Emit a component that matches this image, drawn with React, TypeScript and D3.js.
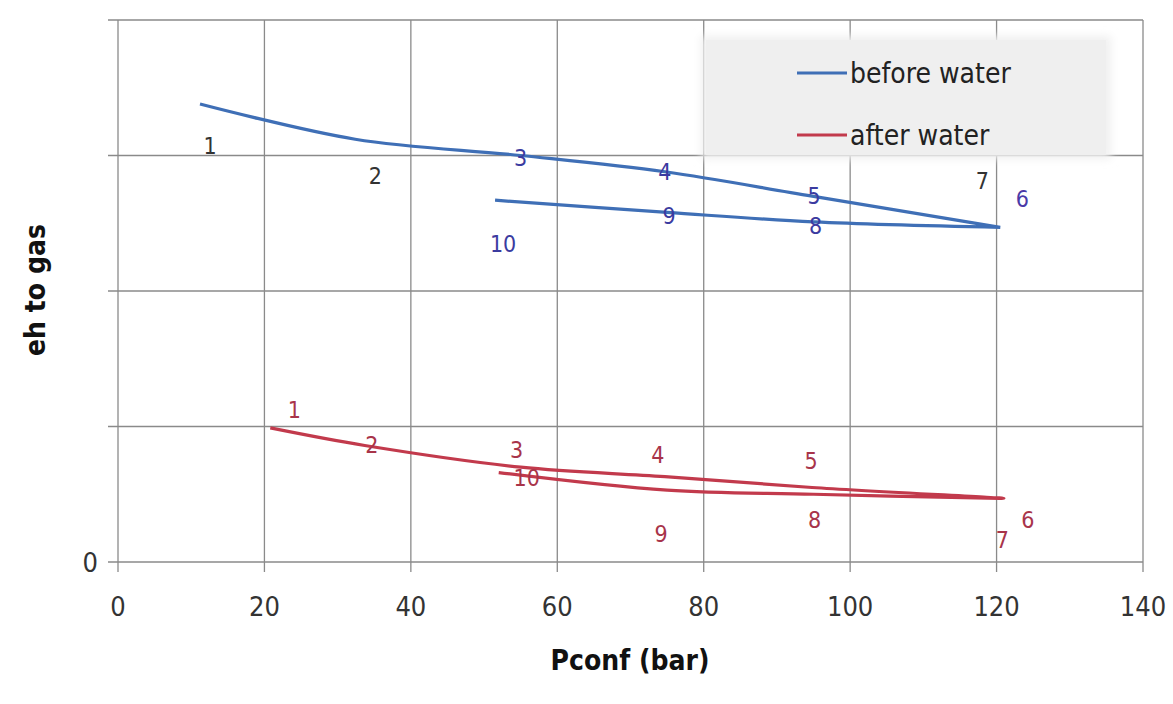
import React from "react";
import * as d3 from "d3";

const xTicks = [0, 20, 40, 60, 80, 100, 120, 140];
const yGrid = [0, 1, 2, 3, 4];
const yTickLabels = ["0", "", "", "", ""];

const pointIds = ["1", "2", "3", "4", "5", "6", "7", "8", "9", "10"];
const beforeX = [11.2, 32.4, 55, 74.7, 94.8, 120.5, 120.5, 95, 75, 51.5];
const beforeY = [3.38, 3.12, 3.0, 2.88, 2.7, 2.47, 2.47, 2.51, 2.58, 2.67];
const afterX = [20.8, 33.7, 55, 74.7, 94.8, 121, 120.5, 95, 75, 52];
const afterY = [0.99, 0.86, 0.7, 0.63, 0.55, 0.47, 0.47, 0.5, 0.53, 0.66];

// label offsets in px relative to the point (layout only)
const beforeLabelDx = [10, 20, 0, 0, 2, 22, -18, 2, 2, 8];
const beforeLabelDy = [50, 45, 10, 8, 8, -20, -38, 12, 12, 52];
const beforeLabelColor = ["#333", "#333", "#3b3ba0", "#3b3ba0", "#3b3ba0", "#4a3aa8", "#333", "#3b3ba0", "#3b3ba0", "#3b3ba0"];
const afterLabelDx = [24, 7, -4, -7, -1, 24, 2, 1, -6, 28];
const afterLabelDy = [-10, 8, -9, -14, -18, 30, 50, 34, 52, 13];

const W = 1173;
const H = 704;
const L = 118, R = 1143, T = 20, B = 562;

export default function App() {
  const x = d3.scaleLinear().domain([0, 140]).range([L, R]);
  const y = d3.scaleLinear().domain([0, 4]).range([B, T]);
  const line = d3
    .line<[number, number]>()
    .x((d) => x(d[0]))
    .y((d) => y(d[1]))
    .curve(d3.curveCatmullRom.alpha(0.5));
  const before: [number, number][] = beforeX.map((v, i) => [v, beforeY[i]]);
  const after: [number, number][] = afterX.map((v, i) => [v, afterY[i]]);
  const font = "'DejaVu Sans Condensed', 'Liberation Sans', Arial, sans-serif";
  const blue = "#3f6fb6";
  const red = "#c23a4c";

  return (
    <svg width={W} height={H} style={{ position: "absolute", left: 0, top: 0, background: "#fff" }} fontFamily={font}>
      <defs>
        <filter id="blur" x="-10%" y="-20%" width="120%" height="140%">
          <feGaussianBlur stdDeviation="4" />
        </filter>
      </defs>
      <rect x={0} y={0} width={W} height={H} fill="#fff" />
      {/* grid */}
      {xTicks.map((t) => (
        <line key={"gx" + t} x1={x(t)} x2={x(t)} y1={T} y2={B + 10} stroke="#8a8a8a" strokeWidth={1.3} />
      ))}
      {yGrid.map((t) => (
        <line key={"gy" + t} x1={L - 10} x2={R} y1={y(t)} y2={y(t)} stroke="#8a8a8a" strokeWidth={1.3} />
      ))}
      {/* legend background, drawn over the grid */}
      <rect x={701} y={36} width={410} height={123} fill="#f0f0f0" filter="url(#blur)" />
      <rect x={706} y={40} width={400} height={115} fill="#efefef" />
      {/* tick labels */}
      {xTicks.map((t) => (
        <text key={"xl" + t} x={x(t)} y={616} textAnchor="middle" fontSize={27} fill="#333">
          {t}
        </text>
      ))}
      {yGrid.map((t, i) => (
        <text key={"yl" + t} x={98} y={y(t) + 10} textAnchor="end" fontSize={27} fill="#333">
          {yTickLabels[i]}
        </text>
      ))}
      {/* series */}
      <path d={line(before) || ""} fill="none" stroke={blue} strokeWidth={3.2} />
      <path d={line(after) || ""} fill="none" stroke={red} strokeWidth={3.2} />
      {/* point labels */}
      {pointIds.map((id, i) => (
        <text key={"bl" + id} x={x(beforeX[i]) + beforeLabelDx[i]} y={y(beforeY[i]) + beforeLabelDy[i]} textAnchor="middle" fontSize={23} fill={beforeLabelColor[i]}>
          {id}
        </text>
      ))}
      {pointIds.map((id, i) => (
        <text key={"al" + id} x={x(afterX[i]) + afterLabelDx[i]} y={y(afterY[i]) + afterLabelDy[i]} textAnchor="middle" fontSize={23} fill="#a8344a">
          {id}
        </text>
      ))}
      {/* legend */}
      <line x1={797} x2={847} y1={73} y2={73} stroke={blue} strokeWidth={3.2} />
      <text x={850} y={83} fontSize={28} fill="#222">before water</text>
      <line x1={797} x2={847} y1={135} y2={135} stroke={red} strokeWidth={3.2} />
      <text x={850} y={145} fontSize={28} fill="#222">after water</text>
      {/* axis titles */}
      <text x={630} y={670} textAnchor="middle" fontSize={28} fontWeight="bold" fill="#111">Pconf (bar)</text>
      <text transform="translate(45,290) rotate(-90)" textAnchor="middle" fontSize={28} fontWeight="bold" fill="#111">eh to gas</text>
    </svg>
  );
}
